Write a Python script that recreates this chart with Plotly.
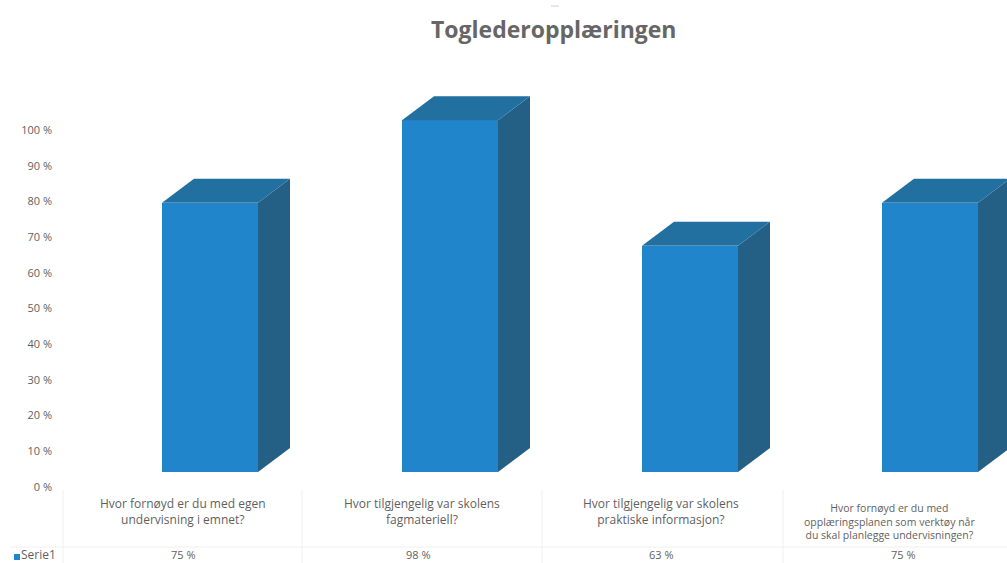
import plotly.graph_objects as go

categories = [
    "Hvor fornøyd er du med egen<br>undervisning i emnet?",
    "Hvor tilgjengelig var skolens<br>fagmateriell?",
    "Hvor tilgjengelig var skolens<br>praktiske informasjon?",
    "Hvor fornøyd er du med<br>opplæringsplanen som verktøy når<br>du skal planlegge undervisningen?",
]
values = [75, 98, 63, 75]
value_labels = ["75 %", "98 %", "63 %", "75 %"]
tick_values = [0, 10, 20, 30, 40, 50, 60, 70, 80, 90, 100]
tick_labels = ["0 %", "10 %", "20 %", "30 %", "40 %", "50 %", "60 %", "70 %", "80 %", "90 %", "100 %"]
series_name = "Serie1"

W, H = 1007, 563
ML = 55
PX_PER_CAT = 240.0
FIRST_CENTER = 210.0
PX_PER_PCT = 3.59
Y0_PX = 472.0
BAR_W = 0.4
DX = 32 / PX_PER_CAT
DY = 24 / PX_PER_PCT

FRONT, TOP, SIDE = "#2185CB", "#22709F", "#245F86"
TEXT = "#5f5f5f"
FONT = "Open Sans"

x_range = [(ML - FIRST_CENTER) / PX_PER_CAT, (W - FIRST_CENTER) / PX_PER_CAT]
y_range = [(Y0_PX - H) / PX_PER_PCT, Y0_PX / PX_PER_PCT]
y2_range = [(487 - H) / 3.57, 487 / 3.57]


def px_x(px):
    return (px - FIRST_CENTER) / PX_PER_CAT


def py(px):
    return 1 - px / H


xs = list(range(len(values)))
fig = go.Figure()

fig.add_trace(go.Bar(x=xs, y=values, width=BAR_W, marker=dict(color=FRONT, line=dict(width=0)),
                     name=series_name, showlegend=False))

for i, v in zip(xs, values):
    l, r = i - BAR_W / 2, i + BAR_W / 2
    fig.add_trace(go.Scatter(x=[r, r + DX, r + DX, r, r], y=[0, DY, v + DY, v, 0], mode="lines",
                             fill="toself", fillcolor=SIDE, line=dict(width=0), showlegend=False,
                             hoverinfo="skip"))
    fig.add_trace(go.Scatter(x=[l, l + DX, r + DX, r, l], y=[v, v + DY, v + DY, v, v], mode="lines",
                             fill="toself", fillcolor=TOP, line=dict(width=0), showlegend=False,
                             hoverinfo="skip"))

fig.add_trace(go.Scatter(x=[x_range[0]] * len(tick_values), y=tick_values, yaxis="y2", mode="markers",
                         marker=dict(opacity=0, size=1), showlegend=False, hoverinfo="skip"))

annotations = [dict(text="<b>Toglederopplæringen</b>", xref="paper", yref="paper",
                    x=(554 - ML) / (W - ML), y=py(29), xanchor="center", yanchor="middle", showarrow=False,
                    font=dict(family=FONT, size=23, color="#666666"))]

label_px = [(183, 511, 12), (422, 511, 12), (661, 511, 12), (889, 521, 10.5)]
value_px = [(183, 554), (418, 554), (661, 554), (903, 554)]
for text, (lx, ly, fs) in zip(categories, label_px):
    annotations.append(dict(text=text, xref="x", yref="paper", x=px_x(lx), y=py(ly), xanchor="center",
                            yanchor="middle", showarrow=False, align="center",
                            font=dict(family=FONT, size=fs, color=TEXT)))
for text, (lx, ly) in zip(value_labels, value_px):
    annotations.append(dict(text=text, xref="x", yref="paper", x=px_x(lx), y=py(ly), xanchor="center",
                            yanchor="middle", showarrow=False, borderpad=0,
                            font=dict(family=FONT, size=11, color=TEXT)))
annotations.append(dict(text=series_name, xref="paper", yref="paper", x=(20 - ML) / (W - ML), y=py(554),
                        xanchor="left", yanchor="middle", showarrow=False, borderpad=0,
                        font=dict(family=FONT, size=12, color=TEXT)))

shapes = [dict(type="rect", xref="paper", yref="paper", x0=(14 - ML) / (W - ML), x1=(20 - ML) / (W - ML),
               y0=py(560), y1=py(554), fillcolor=FRONT, line=dict(width=0)),
          dict(type="line", xref="paper", yref="paper", x0=(551 - ML) / (W - ML), x1=(559 - ML) / (W - ML),
               y0=py(6), y1=py(6), line=dict(color="#d0d0d0", width=1))]
for px in (63, 302, 542, 783):
    shapes.append(dict(type="line", xref="paper", yref="paper", x0=(px - ML) / (W - ML), x1=(px - ML) / (W - ML),
                       y0=py(490), y1=0, line=dict(color="#f0f0f0", width=1)))
shapes.append(dict(type="line", xref="paper", yref="paper", x0=(10 - ML) / (W - ML), x1=1,
                   y0=py(547), y1=py(547), line=dict(color="#f0f0f0", width=1)))

fig.update_layout(
    width=W, height=H, autosize=False,
    margin=dict(l=ML, r=0, t=0, b=0),
    paper_bgcolor="white", plot_bgcolor="white",
    font=dict(family=FONT, color=TEXT),
    showlegend=False,
    xaxis=dict(range=x_range, visible=False, fixedrange=True),
    yaxis=dict(range=y_range, visible=False, fixedrange=True),
    yaxis2=dict(range=y2_range, overlaying="y", side="left", anchor="x", tickmode="array",
                tickvals=tick_values, ticktext=tick_labels, color=TEXT,
                showgrid=False, zeroline=False, showline=False, ticks="",
                ticklabelstandoff=2, tickfont=dict(family=FONT, size=11, color=TEXT), fixedrange=True),
    annotations=annotations, shapes=shapes, bargap=0,
)

fig.write_html("out.html", post_script="document.body.style.margin='0';", config=dict(displayModeBar=False))
